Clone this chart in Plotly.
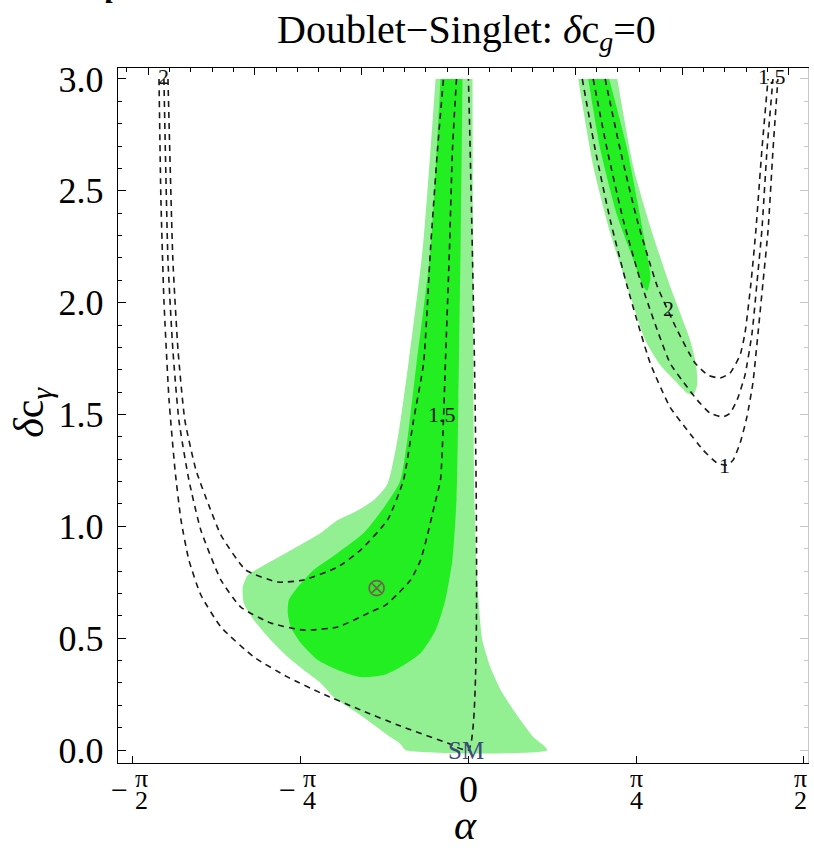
import numpy as np
import plotly.graph_objects as go

PI = np.pi

# ---- axis ticks -------------------------------------------------------------
alpha_ticks = [-PI / 2, -PI / 4, 0.0, PI / 4, PI / 2]
alpha_tick_sign = ["−", "−", "", "", ""]
alpha_tick_num = ["π", "π", "0", "π", "π"]
alpha_tick_den = ["2", "4", "", "4", "2"]
dcg_ticks = [0.0, 0.5, 1.0, 1.5, 2.0, 2.5, 3.0]
dcg_tick_text = ["0.0", "0.5", "1.0", "1.5", "2.0", "2.5", "3.0"]

alpha_range = [-1.641, 1.590]
dcg_range = [-0.058, 3.049]

# ---- allowed regions (alpha, delta c_gamma) ---------------------------------
left_2sig_alpha = [-0.154, -0.215, -0.281, -0.330, -0.379, -0.440, -0.530, -0.612, -0.692, -0.846,
                   -0.972, -1.033, -1.057, -1.052, -1.005, -0.926, -0.846, -0.771, -0.692, -0.631,
                   -0.505, -0.365, -0.318, -0.295, 0.369, 0.304, 0.243, 0.196, 0.150, 0.103,
                   0.065, 0.047, 0.037, 0.028, 0.023, 0.019]
left_2sig_dcg = [3.0, 2.235, 1.730, 1.400, 1.190, 1.120, 1.065, 1.028, 0.970, 0.885,
                 0.818, 0.782, 0.729, 0.657, 0.581, 0.492, 0.416, 0.358, 0.300, 0.237,
                 0.156, 0.058, 0.027, 0.0, 0.0, 0.058, 0.134, 0.200, 0.270, 0.370,
                 0.492, 0.671, 0.849, 1.118, 1.730, 3.0]

left_1sig_alpha = [-0.131, -0.178, -0.243, -0.318, -0.388, -0.491, -0.612, -0.725, -0.799, -0.841,
                   -0.846, -0.832, -0.785, -0.706, -0.612, -0.505, -0.397, -0.318, -0.224, -0.154,
                   -0.108, -0.075, -0.056, -0.047, -0.037, -0.028]
left_1sig_dcg = [3.0, 2.235, 1.730, 1.207, 1.095, 0.970, 0.881, 0.805, 0.729, 0.671,
                 0.612, 0.550, 0.478, 0.402, 0.358, 0.326, 0.335, 0.371, 0.434, 0.536,
                 0.671, 0.849, 1.118, 1.565, 2.235, 3.0]

right_2sig_alpha = [0.514, 0.584, 0.664, 0.743, 0.828, 0.898, 0.977, 1.024, 1.052, 1.071,
                    1.066, 1.038, 0.944, 0.851, 0.771, 0.697]
right_2sig_dcg = [3.0, 2.611, 2.311, 2.074, 1.833, 1.721, 1.641, 1.596, 1.587, 1.632,
                  1.721, 1.833, 2.074, 2.342, 2.611, 3.0]

right_1sig_alpha = [0.561, 0.617, 0.697, 0.771, 0.818, 0.837, 0.851, 0.851, 0.804, 0.743, 0.659]
right_1sig_dcg = [3.0, 2.687, 2.387, 2.195, 2.074, 2.052, 2.101, 2.132, 2.387, 2.687, 3.0]

# ---- contours of the diphoton ratio -----------------------------------------
# left family
c1_left_alpha = [-1.449, -1.440, -1.426, -1.402, -1.374, -1.346, -1.309, -1.253, -1.159, -1.005,
                 -0.846, -0.692, -0.505, -0.318, -0.098, 0.0, 0.0]
c1_left_dcg = [3.0, 2.459, 2.012, 1.565, 1.252, 1.028, 0.849, 0.693, 0.550, 0.416,
               0.326, 0.255, 0.179, 0.107, 0.031, 0.0, 3.0]

c15_left_alpha = [-1.426, -1.407, -1.384, -1.356, -1.309, -1.253, -1.159, -1.066, -0.926, -0.771,
                  -0.612, -0.458, -0.388, -0.332, -0.271, -0.224, -0.192, -0.159, -0.131, -0.117,
                  -0.108, -0.089, -0.075, -0.056]
c15_left_dcg = [3.0, 2.190, 1.788, 1.475, 1.207, 0.983, 0.760, 0.639, 0.568, 0.536,
                0.550, 0.617, 0.648, 0.697, 0.760, 0.849, 0.961, 1.095, 1.207, 1.475,
                1.730, 2.235, 2.682, 3.0]

c2_left_alpha = [-1.407, -1.384, -1.360, -1.328, -1.276, -1.216, -1.159, -1.043, -0.893, -0.771,
                 -0.612, -0.505, -0.379, -0.304, -0.257, -0.210, -0.178, -0.145, -0.117]
c2_left_dcg = [3.0, 2.190, 1.788, 1.475, 1.252, 1.095, 0.961, 0.805, 0.751, 0.760,
               0.818, 0.894, 1.028, 1.207, 1.475, 1.730, 2.235, 2.682, 3.0]

# right family
c1_right_alpha = [0.533, 0.594, 0.664, 0.743, 0.851, 0.944, 1.024, 1.099, 1.164, 1.211,
                  1.239, 1.272, 1.304, 1.332, 1.356, 1.379, 1.403, 1.426, 1.449]
c1_right_dcg = [3.0, 2.682, 2.369, 2.074, 1.730, 1.533, 1.431, 1.341, 1.283, 1.274,
                1.296, 1.372, 1.489, 1.641, 1.864, 2.088, 2.324, 2.682, 3.0]

c15_right_alpha = [0.584, 0.650, 0.725, 0.813, 0.944, 1.024, 1.071, 1.131, 1.192, 1.225,
                   1.258, 1.295, 1.328, 1.351, 1.374, 1.398, 1.426]
c15_right_dcg = [3.0, 2.682, 2.369, 2.074, 1.730, 1.623, 1.565, 1.506, 1.489, 1.506,
                 1.565, 1.676, 1.864, 2.088, 2.324, 2.682, 3.0]

c2_right_alpha = [0.640, 0.711, 0.790, 0.884, 0.977, 1.061, 1.122, 1.178, 1.225, 1.272,
                  1.295, 1.323, 1.346, 1.374, 1.403]
c2_right_dcg = [3.0, 2.682, 2.369, 2.074, 1.878, 1.730, 1.676, 1.663, 1.685, 1.766,
                1.864, 2.088, 2.324, 2.682, 3.0]

# contour labels
label_text = ["2", "1.5", "2", "1", "1.5"]
label_alpha = [-1.426, -0.126, 0.935, 1.201, 1.421]
label_dcg = [3.01, 1.50, 1.976, 1.274, 3.01]

# best fit point and SM point
best_alpha = [-0.430]
best_dcg = [0.724]
sm_alpha = [0.0]
sm_dcg = [0.0]

LIGHT = "rgb(146,240,146)"
DARK = "rgb(34,238,34)"
SERIF = "Liberation Serif"

fig = go.Figure()

for xs, ys, col in [(left_2sig_alpha, left_2sig_dcg, LIGHT),
                    (right_2sig_alpha, right_2sig_dcg, LIGHT),
                    (left_1sig_alpha, left_1sig_dcg, DARK),
                    (right_1sig_alpha, right_1sig_dcg, DARK)]:
    fig.add_trace(go.Scatter(x=xs, y=ys, fill="toself", fillcolor=col, mode="none",
                             line=dict(shape="spline", smoothing=0.6), hoverinfo="skip"))

for xs, ys in [(c1_left_alpha, c1_left_dcg), (c15_left_alpha, c15_left_dcg),
               (c2_left_alpha, c2_left_dcg), (c1_right_alpha, c1_right_dcg),
               (c15_right_alpha, c15_right_dcg), (c2_right_alpha, c2_right_dcg)]:
    fig.add_trace(go.Scatter(x=xs, y=ys, mode="lines",
                             line=dict(color="#1a1a1a", width=1.6, dash="6px,5px",
                                       shape="spline", smoothing=0.5),
                             hoverinfo="skip"))

fig.add_trace(go.Scatter(x=best_alpha, y=best_dcg, mode="markers",
                         marker=dict(symbol="circle-x-open", size=15, color="#7a5a52",
                                     line=dict(width=1.6, color="#7a5a52"))))

# invisible trace carrying the top / right frame axes
fig.add_trace(go.Scatter(x=alpha_range, y=dcg_range, xaxis="x2", yaxis="y2",
                         mode="none", hoverinfo="skip"))

for t, xa, ya in zip(label_text, label_alpha, label_dcg):
    fig.add_annotation(x=xa, y=ya, text=t, showarrow=False, xanchor="center", yanchor="middle",
                       font=dict(family=SERIF, size=22, color="#111"))

fig.add_annotation(x=sm_alpha[0], y=sm_dcg[0], text="SM", showarrow=False,
                   xanchor="center", yanchor="middle", xshift=-2,
                   font=dict(family=SERIF, size=25, color="#3c4a7c"))

# bottom tick labels drawn as stacked fractions
frac_shift = [9, 9, 0, 0, -3]
for v, s, n, d, sh in zip(alpha_ticks, alpha_tick_sign, alpha_tick_num, alpha_tick_den, frac_shift):
    if d:
        fig.add_annotation(x=v, y=-0.0230, xref="x", yref="paper", text=n, showarrow=False,
                           xanchor="center", yanchor="middle", xshift=sh,
                           font=dict(family=SERIF, size=26, color="black"))
        fig.add_annotation(x=v, y=-0.0535, xref="x", yref="paper", text=d, showarrow=False,
                           xanchor="center", yanchor="middle", xshift=sh,
                           font=dict(family=SERIF, size=26, color="black"))
    else:
        fig.add_annotation(x=v, y=-0.038, xref="x", yref="paper", text=n, showarrow=False,
                           xanchor="center", yanchor="middle",
                           font=dict(family=SERIF, size=38, color="black"))
    if s:
        fig.add_annotation(x=v, y=-0.038, xref="x", yref="paper", text=s, showarrow=False,
                           xanchor="center", yanchor="middle", xshift=-13,
                           font=dict(family=SERIF, size=30, color="black"))

fig.add_annotation(x=0.505, y=1.052, xref="paper", yref="paper",
                   text="Doublet−Singlet: <i>δ</i>c<sub><i>g</i></sub>=0", showarrow=False,
                   xanchor="center", yanchor="middle",
                   font=dict(family=SERIF, size=40, color="black"))
fig.add_annotation(x=0.503, y=-0.089, xref="paper", yref="paper", text="<i>α</i>",
                   showarrow=False, xanchor="center", yanchor="middle",
                   font=dict(family=SERIF, size=42, color="black"))
fig.add_annotation(x=-0.125, y=0.505, xref="paper", yref="paper",
                   text="<i>δ</i>c<sub><i>γ</i></sub>", textangle=-90, showarrow=False,
                   xanchor="center", yanchor="middle",
                   font=dict(family=SERIF, size=42, color="black"))
fig.add_annotation(x=-0.012, y=1.080, xref="paper", yref="paper", text="<i><b>l</b></i>",
                   xanchor="center", yanchor="bottom", showarrow=False,
                   font=dict(family=SERIF, size=34, color="black"))

axis_common = dict(showgrid=False, zeroline=False, showline=True, linecolor="black",
                   linewidth=1.4, ticks="inside", tickcolor="black", tickwidth=1.1)

fig.update_layout(
    width=814, height=858, autosize=False,
    margin=dict(l=118, r=6, t=68, b=95),
    paper_bgcolor="white", plot_bgcolor="white",
    showlegend=False,
    xaxis=dict(range=alpha_range, tickvals=alpha_ticks, showticklabels=False,
               ticklen=7, **axis_common),
    xaxis2=dict(range=alpha_range, overlaying="x", side="top", anchor="y",
                tick0=0, dtick=0.5, ticklen=7, showticklabels=False,
                minor=dict(dtick=0.1, ticklen=4, ticks="inside", tickcolor="black"),
                **axis_common),
    yaxis=dict(range=dcg_range, tickvals=dcg_ticks, ticktext=dcg_tick_text, ticklen=8,
               minor=dict(tickvals=[i / 10 for i in range(31)], ticklen=4, ticks="inside",
                          tickcolor="black"),
               ticklabelstandoff=6,
               tickfont=dict(family=SERIF, size=36, color="black"), **axis_common),
    yaxis2=dict(range=dcg_range, overlaying="y", side="right", anchor="x",
                tickvals=dcg_ticks, showticklabels=False, ticklen=8,
                showgrid=False, zeroline=False, showline=True, linecolor="#c8c8c8",
                linewidth=1.2, ticks="inside", tickcolor="#c8c8c8",
                minor=dict(tickvals=[i / 10 for i in range(31)], ticklen=4, ticks="inside",
                           tickcolor="#c8c8c8")),
)

fig.write_html("out.html")
